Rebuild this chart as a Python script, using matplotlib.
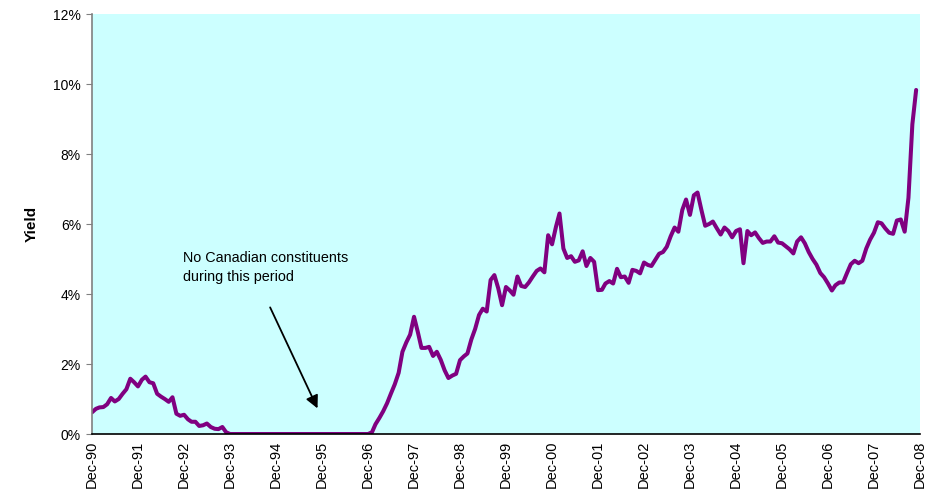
import matplotlib
matplotlib.use("Agg")
import matplotlib.pyplot as plt
from matplotlib.ticker import FuncFormatter
import pandas as pd

plt.rcParams['font.family'] = ['Liberation Sans', 'DejaVu Sans']

# Monthly yield (%) starting Dec-1990
yield_pct = [
    0.62, 0.72, 0.76, 0.77, 0.85, 1.03, 0.93, 1.00, 1.15, 1.28, 1.58, 1.48,
    1.36, 1.55, 1.64, 1.48, 1.45, 1.15, 1.07, 1.00, 0.92, 1.05, 0.58, 0.52,
    0.55, 0.42, 0.35, 0.35, 0.23, 0.25, 0.30, 0.20, 0.15, 0.14, 0.20, 0.05,
    0, 0, 0, 0, 0, 0, 0, 0, 0, 0, 0, 0,
    0, 0, 0, 0, 0, 0, 0, 0, 0, 0, 0, 0,
    0, 0, 0, 0, 0, 0, 0, 0, 0, 0, 0, 0,
    0.00, 0.05, 0.28, 0.46, 0.65, 0.88, 1.15, 1.42, 1.75, 2.35, 2.62, 2.84,
    3.35, 2.90, 2.46, 2.46, 2.49, 2.23, 2.35, 2.12, 1.82, 1.60, 1.67, 1.72,
    2.11, 2.22, 2.30, 2.70, 3.00, 3.40, 3.58, 3.50, 4.40, 4.54, 4.16, 3.68,
    4.20, 4.10, 3.98, 4.50, 4.23, 4.20, 4.33, 4.50, 4.66, 4.73, 4.62, 5.68,
    5.42, 5.92, 6.30, 5.30, 5.03, 5.08, 4.92, 4.96, 5.22, 4.80, 5.03, 4.92,
    4.11, 4.12, 4.30, 4.37, 4.30, 4.72, 4.48, 4.50, 4.32, 4.69, 4.66, 4.59,
    4.90, 4.83, 4.80, 4.98, 5.15, 5.20, 5.35, 5.65, 5.90, 5.78, 6.40, 6.70,
    6.26, 6.82, 6.90, 6.40, 5.95, 6.00, 6.07, 5.88, 5.70, 5.90, 5.80, 5.62,
    5.80, 5.85, 4.88, 5.80, 5.68, 5.76, 5.60, 5.46, 5.50, 5.50, 5.65, 5.47,
    5.45, 5.36, 5.28, 5.16, 5.50, 5.62, 5.45, 5.20, 5.00, 4.84, 4.60, 4.48,
    4.30, 4.10, 4.25, 4.33, 4.33, 4.60, 4.85, 4.95, 4.88, 4.95, 5.30, 5.55,
    5.75, 6.05, 6.02, 5.87, 5.75, 5.72, 6.10, 6.13, 5.78, 6.75, 8.85, 9.83,
]

tick_years = list(range(1990, 2009))
tick_labels = [f"Dec-{y % 100:02d}" for y in tick_years]
y_ticks = [0, 2, 4, 6, 8, 10, 12]

dates = pd.date_range("1990-12-31", periods=len(yield_pct), freq="ME")
tick_dates = [pd.Timestamp(f"{y}-12-31") for y in tick_years]

fig = plt.figure(figsize=(9.37, 4.95), dpi=100)
ax = fig.add_axes([0.0982, 0.1232, 0.8837, 0.8485])
ax.set_facecolor("#CCFFFF")

ax.plot(dates, [v / 100 for v in yield_pct], color="#800080", lw=2.9,
        solid_joinstyle="round", solid_capstyle="round")

ax.set_xlim(tick_dates[0], tick_dates[-1])
ax.set_ylim(0, 0.12)
ax.set_yticks([t / 100 for t in y_ticks])
ax.yaxis.set_major_formatter(FuncFormatter(lambda v, p: f"{v * 100:.0f}%"))
ax.set_xticks(tick_dates)
ax.set_xticklabels(tick_labels, rotation=90, fontsize=10.5)
ax.tick_params(axis="x", length=0, pad=5)
ax.tick_params(axis="y", length=4, color="#808080", labelsize=10, pad=4,
               direction="out")

for side in ("top", "right"):
    ax.spines[side].set_visible(False)
ax.spines["left"].set_color("#808080")
ax.spines["left"].set_linewidth(1.2)
ax.spines["bottom"].set_color("black")
ax.spines["bottom"].set_linewidth(1.2)

ax.set_ylabel("Yield", fontsize=11, fontweight="bold", labelpad=10)

ax.text(pd.Timestamp("1992-12-20"), 0.0522,
        "No Canadian constituents\nduring this period",
        fontsize=10.4, va="top", ha="left", linespacing=1.45)
ax.annotate("", xy=(pd.Timestamp("1995-12-05"), 0.0066),
            xytext=(pd.Timestamp("1994-11-05"), 0.0369),
            arrowprops=dict(arrowstyle="-|>", color="black", lw=1.3,
                            mutation_scale=19))

fig.savefig("out.png", dpi=100)
